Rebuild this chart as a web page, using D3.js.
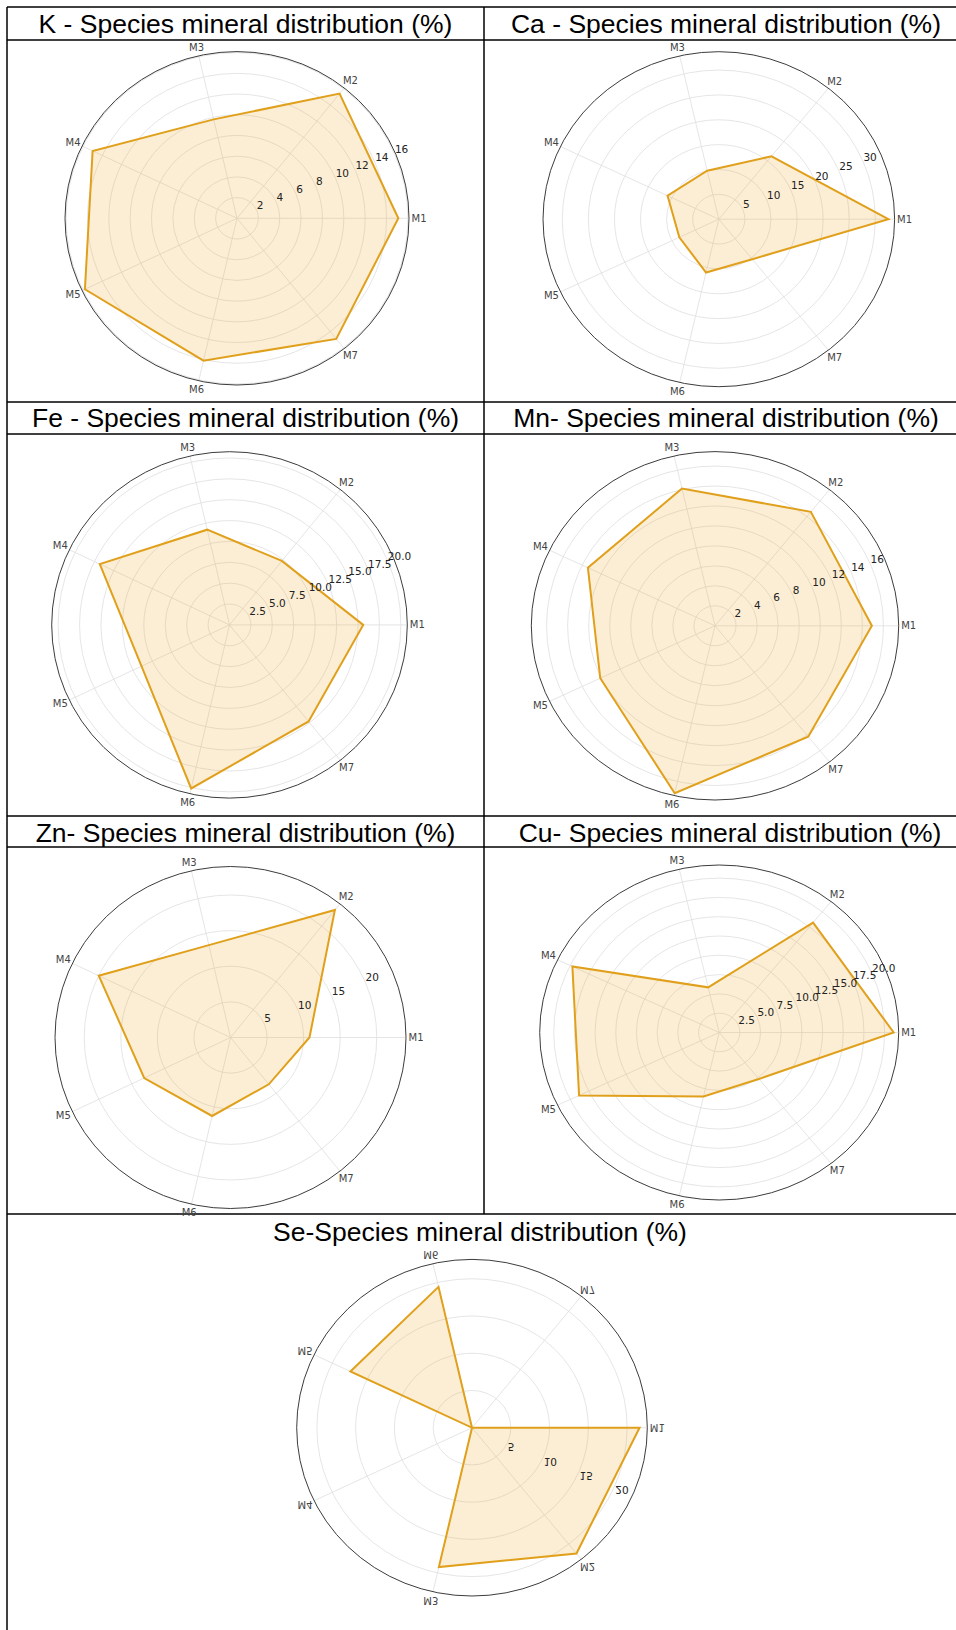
<!DOCTYPE html>
<html>
<head>
<meta charset="utf-8">
<script src="https://cdn.jsdelivr.net/npm/d3@7"></script>
<style>
  body { margin: 0; background: #fff; }
  svg { display: block; }
</style>
</head>
<body>
<svg id="chart" width="956" height="1630"></svg>
<script>
// Spoke categories shared by every radar
const axisNames = ["M1", "M2", "M3", "M4", "M5", "M6", "M7"];

// Species mineral distribution (%) per element, in the order of axisNames
const kValues  = [15.1, 15.4, 9.8, 15.0, 15.8, 14.1, 14.9];
const caValues = [32.5, 16.2, 10.0, 10.9, 8.4, 11.0, 10.3];
const feValues = [15.6, 9.8, 11.7, 16.8, 11.4, 20.1, 14.8];
const mnValues = [14.9, 14.6, 14.1, 13.4, 12.1, 17.2, 14.2];
const znValues = [10.8, 22.9, 13.3, 20.0, 13.1, 11.3, 8.4];
const cuValues = [21.1, 18.2, 6.0, 19.7, 18.8, 8.5, 7.7];
const seValues = [21.6, 21.6, 19.2, 0, 17.4, 19.4, 0];

// Radial tick labels
const kTicks  = [2, 4, 6, 8, 10, 12, 14, 16];
const caTicks = [5, 10, 15, 20, 25, 30];
const feTicks = [2.5, 5.0, 7.5, 10.0, 12.5, 15.0, 17.5, 20.0];
const mnTicks = [2, 4, 6, 8, 10, 12, 14, 16];
const znTicks = [5, 10, 15, 20];
const cuTicks = [2.5, 5.0, 7.5, 10.0, 12.5, 15.0, 17.5, 20.0];
const seTicks = [5, 10, 15, 20];

// Outer radial limit of each radar
const radialLimits = [16.1, 33.7, 20.75, 17.45, 24.0, 21.7, 22.6];

// Panel titles
const titles = [
  "K - Species mineral distribution (%)",
  "Ca - Species mineral distribution (%)",
  "Fe - Species mineral distribution (%)",
  "Mn- Species mineral distribution (%)",
  "Zn- Species mineral distribution (%)",
  "Cu- Species mineral distribution (%)",
  "Se-Species mineral distribution (%)"
];

const svg = d3.select("#chart");

// ---- table frame ----
const frame = svg.append("g").attr("stroke", "#000").attr("stroke-width", 1.5);
[7, 40, 402, 434, 816, 847, 1214].forEach(y =>
  frame.append("line").attr("x1", 7).attr("x2", 956).attr("y1", y).attr("y2", y));
frame.append("line").attr("x1", 7).attr("x2", 7).attr("y1", 7).attr("y2", 1630);
frame.append("line").attr("x1", 484).attr("x2", 484).attr("y1", 7).attr("y2", 1214);

// ---- panel layout ----
const layout = [
  { tx: 245.5, ty: 33,   cx: 237,   cy: 218.3,  rx: 172,   ry: 166.7, flip: false },
  { tx: 726,   ty: 33,   cx: 718.8, cy: 219.2,  rx: 175.8, ry: 167.5, flip: false },
  { tx: 245.5, ty: 427,  cx: 229.5, cy: 624.9,  rx: 177.8, ry: 173.2, flip: false },
  { tx: 726,   ty: 427,  cx: 715,   cy: 625.8,  rx: 183.7, ry: 174.2, flip: false },
  { tx: 245.5, ty: 842,  cx: 230.5, cy: 1037.5, rx: 175.5, ry: 171,   flip: false },
  { tx: 730,   ty: 842,  cx: 719.2, cy: 1032.5, rx: 179.5, ry: 167.5, flip: false },
  { tx: 480,   ty: 1241, cx: 472,   cy: 1427.7, rx: 175.3, ry: 168.3, flip: true }
];

const seriesList = [kValues, caValues, feValues, mnValues, znValues, cuValues, seValues];
const tickList = [kTicks, caTicks, feTicks, mnTicks, znTicks, cuTicks, seTicks];

const n = axisNames.length;
const angleOf = i => i * 2 * Math.PI / n;
const labelAngle = 22.5 * Math.PI / 180;

layout.forEach((p, k) => {
  const values = seriesList[k];
  const ticks = tickList[k];
  const rMax = radialLimits[k];

  svg.append("text")
    .attr("x", p.tx).attr("y", p.ty)
    .attr("text-anchor", "middle")
    .attr("font-family", "'Liberation Sans', Arial, sans-serif")
    .attr("font-size", 26.5)
    .attr("fill", "#000")
    .text(titles[k]);

  const g = svg.append("g");
  if (p.flip) g.attr("transform", `translate(0,${2 * p.cy}) scale(1,-1)`);

  const xs = d3.scaleLinear().domain([0, rMax]).range([0, p.rx]);
  const ys = d3.scaleLinear().domain([0, rMax]).range([0, p.ry]);
  const pt = (a, v) => [p.cx + xs(v) * Math.cos(a), p.cy - ys(v) * Math.sin(a)];

  // rings
  g.selectAll("ellipse.ring").data(ticks).join("ellipse")
    .attr("class", "ring")
    .attr("cx", p.cx).attr("cy", p.cy)
    .attr("rx", d => xs(d)).attr("ry", d => ys(d))
    .attr("fill", "none").attr("stroke", "#dedede").attr("stroke-width", 0.8);

  // spokes
  g.selectAll("line.spoke").data(axisNames).join("line")
    .attr("class", "spoke")
    .attr("x1", p.cx).attr("y1", p.cy)
    .attr("x2", (d, i) => pt(angleOf(i), rMax)[0])
    .attr("y2", (d, i) => pt(angleOf(i), rMax)[1])
    .attr("stroke", "#dedede").attr("stroke-width", 0.8);

  // data polygon
  const line = d3.line().curve(d3.curveLinearClosed);
  g.append("path")
    .attr("d", line(values.map((v, i) => pt(angleOf(i), v))))
    .attr("fill", "rgba(240,170,40,0.2)")
    .attr("stroke", "#e0a01c")
    .attr("stroke-width", 2)
    .attr("stroke-linejoin", "miter");

  // outer frame
  g.append("ellipse")
    .attr("cx", p.cx).attr("cy", p.cy)
    .attr("rx", p.rx).attr("ry", p.ry)
    .attr("fill", "none").attr("stroke", "#3c3c3c").attr("stroke-width", 1);

  // spoke labels
  g.selectAll("text.axis").data(axisNames).join("text")
    .attr("class", "axis")
    .attr("x", (d, i) => p.cx + (p.rx + 10) * Math.cos(angleOf(i)))
    .attr("y", (d, i) => p.cy - (p.ry + 9) * Math.sin(angleOf(i)))
    .attr("text-anchor", "middle")
    .attr("dominant-baseline", "central")
    .attr("font-family", "'DejaVu Sans', sans-serif")
    .attr("font-size", 10)
    .attr("fill", "#444")
    .text(d => d);

  // radial tick labels
  g.selectAll("text.tick").data(ticks).join("text")
    .attr("class", "tick")
    .attr("x", d => pt(labelAngle, d)[0])
    .attr("y", d => pt(labelAngle, d)[1] - 1.5)
    .attr("font-family", "'DejaVu Sans', sans-serif")
    .attr("font-size", 10.5)
    .attr("fill", "#222")
    .text(d => (ticks.some(t => t % 1 !== 0)) ? d.toFixed(1) : d);
});
</script>
</body>
</html>
